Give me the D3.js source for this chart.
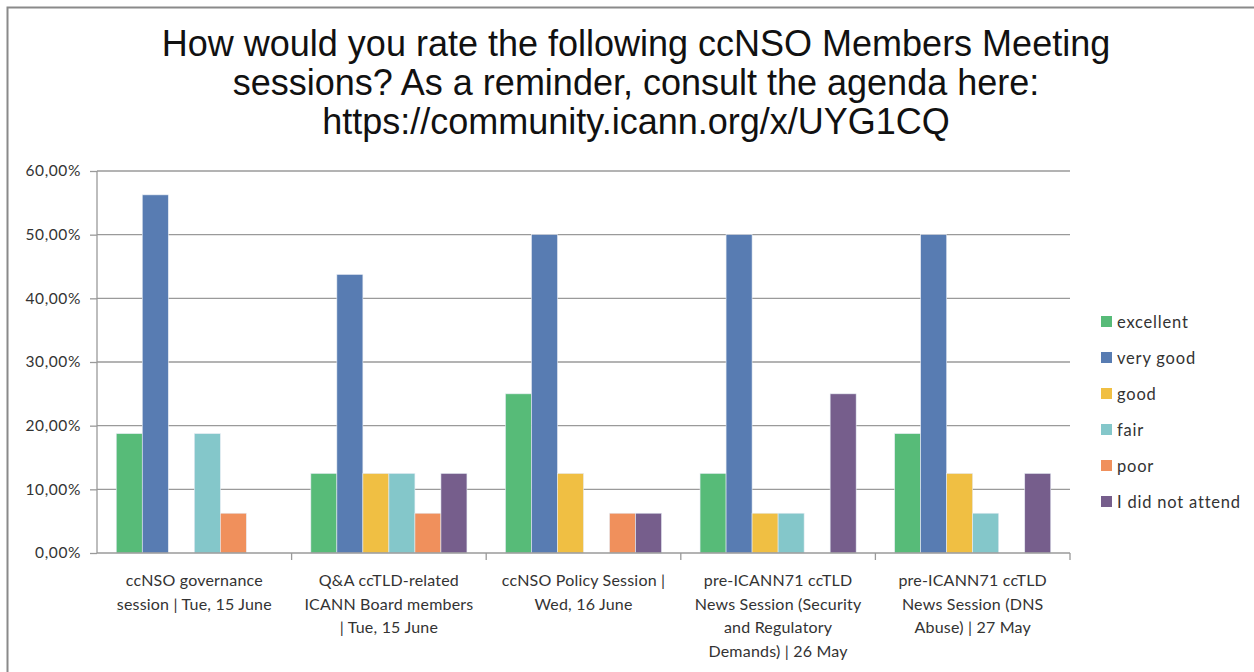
<!DOCTYPE html>
<html><head><meta charset="utf-8">
<script src="https://cdn.jsdelivr.net/npm/d3@7"></script>
<style>body{margin:0;background:#fff}svg{display:block}</style>
</head><body>
<svg id="c" width="1254" height="672"></svg>
<script>
const titleLines = ["How would you rate the following ccNSO Members Meeting",
  "sessions? As a reminder, consult the agenda here:",
  "https://community.icann.org/x/UYG1CQ"];
const categories = ["c1","c2","c3","c4","c5"];
const categoryLabels = [
  ["ccNSO governance","session | Tue, 15 June"],
  ["Q&A ccTLD-related","ICANN Board members","| Tue, 15 June"],
  ["ccNSO Policy Session |","Wed, 16 June"],
  ["pre-ICANN71 ccTLD","News Session (Security","and Regulatory","Demands) | 26 May"],
  ["pre-ICANN71 ccTLD","News Session (DNS","Abuse) | 27 May"]
];
const seriesNames = ["excellent","very good","good","fair","poor","I did not attend"];
const seriesColors = ["#57bb78","#587cb2","#f0bf43","#84c7ca","#f0905c","#765e8c"];
const excellent = [0.1875,0.125,0.25,0.125,0.1875];
const veryGood  = [0.5625,0.4375,0.5,0.5,0.5];
const good      = [0,0.125,0.125,0.0625,0.125];
const fair      = [0.1875,0.125,0,0.0625,0.0625];
const poor      = [0.0625,0.0625,0.0625,0,0];
const notAttend = [0,0.125,0.0625,0.25,0.125];
const seriesValues = [excellent,veryGood,good,fair,poor,notAttend];
const yTicks = [0,0.1,0.2,0.3,0.4,0.5,0.6];

const svg = d3.select("#c");
const font = "Lato, 'Open Sans', sans-serif";
// frame
svg.append("path").attr("d","M7.5,672 V7.5 H1254").attr("fill","none").attr("stroke","#8a8a8a").attr("stroke-width",2);

// title
svg.append("g").selectAll("text").data(titleLines).join("text")
  .attr("x",636).attr("y",(d,i)=>56+i*39).attr("text-anchor","middle")
  .attr("font-family","'Liberation Sans', Arial, sans-serif").attr("font-size",36).attr("fill","#111").text(d=>d);

const x0 = d3.scaleBand().domain(categories).range([97,1070]).paddingInner(0).paddingOuter(0);
const x1 = d3.scaleBand().domain(seriesNames).range([0,x0.bandwidth()]).paddingOuter(0.74).paddingInner(0);
const y = d3.scaleLinear().domain([0,0.6]).range([553,171]);

// grid
svg.append("g").selectAll("line").data(yTicks.slice(1)).join("line")
  .attr("x1",97).attr("x2",1070).attr("y1",d=>y(d)).attr("y2",d=>y(d))
  .attr("stroke","#9a9a9a").attr("stroke-width",1.3);

// bars
const gCat = svg.append("g").selectAll("g").data(categories).join("g")
  .attr("transform",d=>`translate(${x0(d)},0)`);
gCat.selectAll("rect").data((c,ci)=>seriesNames.map((s,si)=>({s,si,v:seriesValues[si][ci]}))).join("rect")
  .attr("x",d=>x1(d.s)).attr("width",x1.bandwidth())
  .attr("y",d=>y(d.v)).attr("height",d=>y(0)-y(d.v))
  .attr("fill",d=>seriesColors[d.si]).attr("stroke","#e6ecf3").attr("stroke-width",0.6);

// y axis
const yAx = svg.append("g").attr("transform","translate(97,0)")
  .call(d3.axisLeft(y).tickValues(yTicks).tickSize(7).tickPadding(9)
    .tickFormat(d=>d3.format(".2f")(d*100).replace(".",",")+"%"));
yAx.select(".domain").attr("stroke","#9a9a9a").attr("stroke-width",1.3).attr("d","M0,171 V553");
yAx.selectAll(".tick line").attr("stroke","#9a9a9a").attr("stroke-width",1.3);
yAx.selectAll(".tick text").attr("font-family",font).attr("font-size",15.5).attr("letter-spacing",0.6).attr("fill","#333");

// x axis
const xAx = svg.append("g").attr("transform","translate(0,553)")
  .call(d3.axisBottom(x0).tickSize(0).tickFormat(""));
xAx.select(".domain").attr("stroke","#9a9a9a").attr("stroke-width",1.3).attr("d","M97,0 H1070");
svg.append("g").selectAll("line").data(categories).join("line")
  .attr("x1",d=>x0(d)+x0.bandwidth()).attr("x2",d=>x0(d)+x0.bandwidth())
  .attr("y1",553).attr("y2",560).attr("stroke","#9a9a9a").attr("stroke-width",1.3);

svg.append("g").selectAll("text").data(categories).join("text")
  .attr("x",d=>x0(d)+x0.bandwidth()/2).attr("y",586)
  .attr("text-anchor","middle").attr("font-family",font).attr("font-size",16).attr("letter-spacing",0.2).attr("fill","#333")
  .each(function(d,i){
    d3.select(this).selectAll("tspan").data(categoryLabels[i]).join("tspan")
      .attr("x",x0(d)+x0.bandwidth()/2).attr("dy",(t,j)=>j?23.5:0).text(t=>t);
  });

// legend
const lg = svg.append("g").selectAll("g").data(seriesNames).join("g")
  .attr("transform",(d,i)=>`translate(1101,${322+i*36})`);
lg.append("rect").attr("x",0).attr("y",-6).attr("width",11).attr("height",11).attr("fill",(d,i)=>seriesColors[i]);
lg.append("text").attr("x",16).attr("y",6).attr("font-family",font).attr("font-size",16.5).attr("letter-spacing",0.8).attr("fill","#333").text(d=>d);
</script>
</body></html>
